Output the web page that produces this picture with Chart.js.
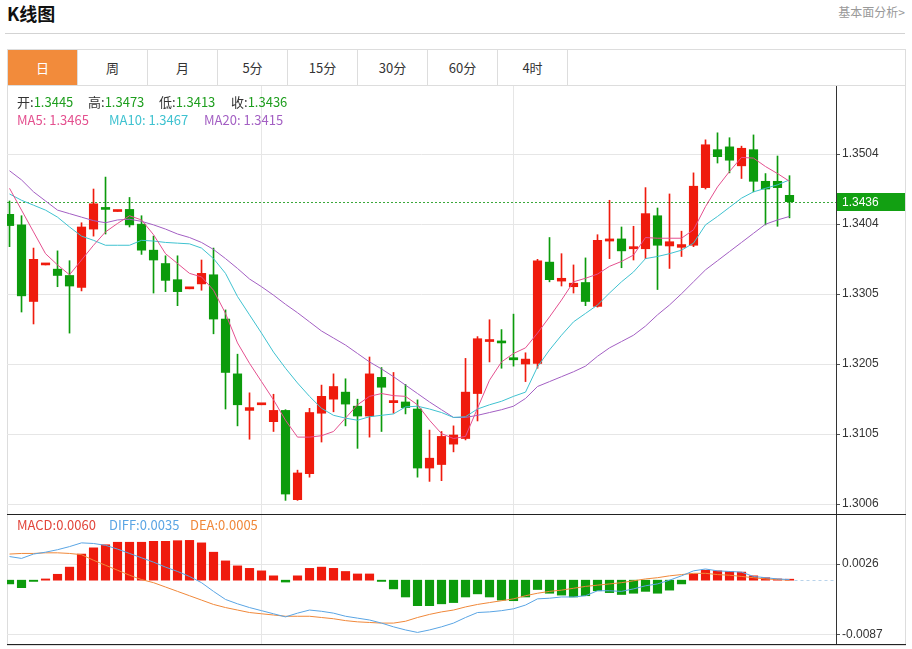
<!DOCTYPE html>
<html><head><meta charset="utf-8">
<script src="https://cdn.jsdelivr.net/npm/chart.js@4.4.0/dist/chart.umd.min.js"></script>
<style>
html,body{margin:0;padding:0;background:#fff;}
body{width:912px;height:649px;position:relative;overflow:hidden;font-family:"Noto Sans CJK SC","Noto Sans",sans-serif;}
.abs{position:absolute;white-space:nowrap;}
#title{left:7px;top:0px;font-size:18px;font-weight:bold;color:#111;line-height:26px;}
#more{right:7px;top:3px;font-size:12px;color:#999;line-height:18px;}
#rule{left:5px;top:33px;width:900px;height:1px;background:#d3d3d3;}
#tabs{left:7px;top:49px;width:897px;height:35px;border:1px solid #ddd;display:flex;}
.tab{width:69px;border-right:1px solid #ddd;text-align:center;line-height:35px;font-size:13px;color:#333;}
.tab.on{background:#f28b3b;color:#fff;}
#box{left:7px;top:85px;width:897px;height:560px;border:1px solid #ddd;border-top:none;}
.sep{left:7px;width:899px;height:1px;background:#222;}
canvas{position:absolute;left:7px;}
.lg{font-size:13px;line-height:16px;}
.lbl{color:#333;}
.gv{color:#1e9e1e;}
</style></head>
<body>
<div id="title" class="abs">K线图</div>
<div id="more" class="abs">基本面分析&gt;</div>
<div id="rule" class="abs"></div>
<div id="tabs" class="abs">
  <div class="tab on">日</div><div class="tab">周</div><div class="tab">月</div><div class="tab">5分</div>
  <div class="tab">15分</div><div class="tab">30分</div><div class="tab">60分</div><div class="tab">4时</div>
</div>
<div id="box" class="abs"></div>
<canvas id="c1" width="898" height="428" style="top:86px;width:898px;height:428px;"></canvas>
<canvas id="c2" width="898" height="129" style="top:515px;width:898px;height:129px;"></canvas>
<div class="abs sep" style="top:514px;"></div>
<div class="abs sep" style="top:644px;"></div>
<div id="leg" class="abs" style="left:0;top:0;"></div>
<script>
// ---- data (daily candles) ----
const openP  = [1.3418,1.3403,1.3294,1.3346,1.3340,1.3331,1.3314,1.3397,1.3427,1.3422,
                1.3425,1.3404,1.3367,1.3348,1.3325,1.3312,1.3319,1.3332,1.3269,1.3191,
                1.3139,1.3147,1.3123,1.3139,1.3012,1.3049,1.3135,1.3155,1.3165,1.3145,
                1.3131,1.3186,1.3150,1.3151,1.3141,1.3057,1.3062,1.3091,1.3099,1.3163,
                1.3237,1.3237,1.3214,1.3205,1.3206,1.3350,1.3323,1.3315,1.3321,1.3287,
                1.3380,1.3383,1.3369,1.3369,1.3416,1.3373,1.3371,1.3374,1.3456,1.3510,
                1.3514,1.3487,1.3510,1.3465,1.3465,1.3445];
const highP  = [1.3437,1.3416,1.3370,1.3346,1.3366,1.3352,1.3406,1.3454,1.3471,1.3422,
                1.3442,1.3416,1.3387,1.3359,1.3359,1.3312,1.3353,1.3370,1.3282,1.3219,
                1.3164,1.3147,1.3162,1.3140,1.3054,1.3142,1.3175,1.3191,1.3184,1.3155,
                1.3215,1.3200,1.3193,1.3176,1.3154,1.3111,1.3109,1.3117,1.3213,1.3244,
                1.3268,1.3254,1.3276,1.3221,1.3354,1.3385,1.3362,1.3346,1.3356,1.3389,
                1.3438,1.3400,1.3401,1.3456,1.3427,1.3447,1.3394,1.3477,1.3524,1.3534,
                1.3527,1.3515,1.3531,1.3476,1.3501,1.3473];
const lowP   = [1.3372,1.3279,1.3262,1.3346,1.3315,1.3249,1.3309,1.3387,1.3390,1.3422,
                1.3400,1.3361,1.3306,1.3308,1.3288,1.3312,1.3310,1.3248,1.3141,1.3117,
                1.3098,1.3147,1.3109,1.3011,1.3011,1.3044,1.3094,1.3137,1.3117,1.3085,
                1.3101,1.3109,1.3135,1.3134,1.3044,1.3038,1.3039,1.3080,1.3097,1.3124,
                1.3208,1.3199,1.3202,1.3180,1.3199,1.3322,1.3316,1.3306,1.3288,1.3286,
                1.3355,1.3342,1.3353,1.3355,1.3311,1.3341,1.3358,1.3372,1.3454,1.3491,
                1.3477,1.3469,1.3450,1.3403,1.3401,1.3413];
const closeP = [1.3402,1.3302,1.3354,1.3346,1.3331,1.3316,1.3400,1.3433,1.3425,1.3422,
                1.3403,1.3367,1.3353,1.3324,1.3308,1.3312,1.3334,1.3269,1.3193,1.3147,
                1.3143,1.3147,1.3139,1.3020,1.3050,1.3136,1.3159,1.3173,1.3148,1.3131,
                1.3191,1.3172,1.3153,1.3143,1.3057,1.3071,1.3102,1.3104,1.3165,1.3241,
                1.3239,1.3235,1.3211,1.3212,1.3352,1.3325,1.3327,1.3320,1.3294,1.3381,
                1.3383,1.3366,1.3372,1.3419,1.3374,1.3379,1.3375,1.3458,1.3517,1.3500,
                1.3495,1.3512,1.3465,1.3454,1.3456,1.3436];
const ma5    = [1.3455,1.3424,1.3393,1.3362,1.3346,1.3332,1.3353,1.3374,1.3393,1.3405,
                1.3416,1.3410,1.3389,1.3362,1.3348,1.3334,1.3329,1.3310,1.3277,1.3235,
                1.3206,1.3180,1.3154,1.3125,1.3101,1.3101,1.3103,1.3109,1.3128,1.3147,
                1.3159,1.3163,1.3160,1.3159,1.3147,1.3125,1.3106,1.3099,1.3102,1.3142,
                1.3182,1.3208,1.3220,1.3228,1.3249,1.3272,1.3296,1.3322,1.3327,1.3333,
                1.3344,1.3351,1.3360,1.3385,1.3384,1.3384,1.3384,1.3396,1.3429,1.3457,
                1.3479,1.3499,1.3498,1.3486,1.3476,1.3465];
const ma10   = [1.3447,1.3438,1.3431,1.3424,1.3414,1.3400,1.3387,1.3381,1.3374,1.3374,
                1.3374,1.3381,1.3380,1.3378,1.3377,1.3376,1.3370,1.3355,1.3334,1.3301,
                1.3275,1.3249,1.3222,1.3199,1.3178,1.3159,1.3142,1.3132,1.3128,1.3125,
                1.3130,1.3132,1.3134,1.3144,1.3145,1.3141,1.3136,1.3129,1.3130,1.3141,
                1.3147,1.3152,1.3159,1.3165,1.3201,1.3225,1.3246,1.3265,1.3277,1.3289,
                1.3306,1.3322,1.3336,1.3355,1.3358,1.3362,1.3367,1.3377,1.3403,1.3415,
                1.3428,1.3441,1.3450,1.3455,1.3460,1.3467];
const ma20   = [1.3480,1.3467,1.3450,1.3437,1.3424,1.3419,1.3414,1.3409,1.3406,1.3410,
                1.3411,1.3408,1.3403,1.3397,1.3390,1.3385,1.3378,1.3368,1.3355,1.3341,
                1.3326,1.3315,1.3303,1.3290,1.3278,1.3265,1.3252,1.3242,1.3232,1.3220,
                1.3208,1.3198,1.3187,1.3175,1.3163,1.3151,1.3140,1.3129,1.3129,1.3132,
                1.3136,1.3140,1.3145,1.3156,1.3173,1.3180,1.3187,1.3194,1.3202,1.3216,
                1.3228,1.3237,1.3246,1.3259,1.3275,1.3289,1.3305,1.3322,1.3339,1.3352,
                1.3365,1.3378,1.3391,1.3404,1.3410,1.3415];
const macdHist = [-0.0006,-0.0012,-0.0002,0.0002,0.00095,0.0021,0.0042,0.0052,0.0057,0.0061,
                0.0061,0.0061,0.00625,0.00625,0.00635,0.0064,0.0060,0.0045,0.0031,0.0023,
                0.0019,0.0015,0.0007,-0.0003,0.0007,0.0019,0.0021,0.0019,0.0014,0.0010,
                0.0010,-0.0002,-0.0014,-0.0027,-0.0041,-0.0041,-0.0038,-0.0036,-0.0027,-0.0022,
                -0.0027,-0.0032,-0.0033,-0.0027,-0.0015,-0.0021,-0.0024,-0.0027,-0.0025,-0.0017,
                -0.0020,-0.0023,-0.0021,-0.0018,-0.0021,-0.0016,-0.0006,0.0010,0.0016,0.0015,
                0.0014,0.0013,0.0007,0.0004,0.0002,0.0001];
const diff   = [0.0038,0.0035,0.0042,0.0045,0.0049,0.0054,0.0060,0.0059,0.0056,0.0050,
                0.0043,0.0036,0.0029,0.0021,0.0014,0.0006,-0.0004,-0.0018,-0.0031,-0.0038,
                -0.0044,-0.0049,-0.0054,-0.0059,-0.0053,-0.0048,-0.0050,-0.0053,-0.0058,-0.0061,
                -0.0064,-0.0069,-0.0075,-0.0080,-0.0084,-0.0080,-0.0075,-0.0069,-0.0060,-0.0052,
                -0.0051,-0.0049,-0.0046,-0.0040,-0.0030,-0.0029,-0.0027,-0.0027,-0.0025,-0.0017,
                -0.0017,-0.0018,-0.0014,-0.0009,-0.0006,0.0000,0.0007,0.0015,0.0018,0.0015,
                0.0014,0.0013,0.0006,0.0004,0.0002,0.0001];
const dea    = [0.0042,0.0043,0.0043,0.0044,0.0044,0.0043,0.0041,0.0032,0.0024,0.0016,
                0.0008,0.0001,-0.0004,-0.0011,-0.0018,-0.0025,-0.0032,-0.0039,-0.0044,-0.0048,
                -0.0052,-0.0054,-0.0056,-0.0058,-0.0058,-0.0058,-0.0060,-0.0062,-0.0065,-0.0067,
                -0.0068,-0.0069,-0.0069,-0.0066,-0.0060,-0.0055,-0.0051,-0.0048,-0.0043,-0.0039,
                -0.0036,-0.0033,-0.0030,-0.0025,-0.0021,-0.0018,-0.0016,-0.0013,-0.0010,-0.0008,
                -0.0006,-0.0004,-0.0001,0.0002,0.0004,0.0007,0.0009,0.0011,0.0011,0.0009,
                0.0008,0.0006,0.0004,0.0002,0.0001,0.0000];
const macdLegend = {MACD: 0.0060, DIFF: 0.0035, DEA: 0.0005};
const priceTicks = [1.30058,1.31054,1.3205,1.33046,1.34042,1.35038];
const macdTicks  = [0.0026,-0.0087];
const xGridTicks = [21,42];
const priceRange = {min:1.29916, max:1.36006};
const macdRange  = {min:-0.01026, max:0.01048};
const xRange     = {min:-0.21, max:68.875};

// ---- styling ----
const UP='#ef1b0d', DOWN='#0c9b0c', PRICEBOX='#12a012';
const C5='#e4508f', C10='#3fc2d0', C20='#a35fc3', CDIFF='#5aa5e4', CDEA='#f0883a';
const N = closeP.length;
const last = N-1;

Chart.defaults.font.family = "'Liberation Sans', Arial, sans-serif";
Chart.defaults.font.size = 12;
Chart.defaults.color = '#333';
Chart.defaults.animation = false;

// legends as text
const leg = document.getElementById('leg');
function span(x,y,html){const d=document.createElement('div');d.className='abs lg';d.style.left=x+'px';d.style.top=y+'px';d.innerHTML=html;leg.appendChild(d);}
span(17,94,'<span class="lbl">开:</span><span class="gv">'+openP[last].toFixed(4)+'</span>');
span(88,94,'<span class="lbl">高:</span><span class="gv">'+highP[last].toFixed(4)+'</span>');
span(159,94,'<span class="lbl">低:</span><span class="gv">'+lowP[last].toFixed(4)+'</span>');
span(231,94,'<span class="lbl">收:</span><span class="gv">'+closeP[last].toFixed(4)+'</span>');
span(17,112,'<span style="color:'+C5+'">MA5: '+ma5[last].toFixed(4)+'</span>');
span(109,112,'<span style="color:'+C10+'">MA10: '+ma10[last].toFixed(4)+'</span>');
span(204,112,'<span style="color:'+C20+'">MA20: '+ma20[last].toFixed(4)+'</span>');
span(17,517,'<span style="color:#e2463b">MACD:'+macdLegend.MACD.toFixed(4)+'</span>');
span(109,517,'<span style="color:'+CDIFF+'">DIFF:'+macdLegend.DIFF.toFixed(4)+'</span>');
span(190,517,'<span style="color:'+CDEA+'">DEA:'+macdLegend.DEA.toFixed(4)+'</span>');

function xScale(){
  return {type:'linear', min:xRange.min, max:xRange.max, offset:false,
    grid:{color:'#e6e6e6', drawTicks:false, offset:false}, border:{display:false}, ticks:{display:false},
    afterBuildTicks:s=>{s.ticks=xGridTicks.map(v=>({value:v}));},
    afterFit:s=>{s.height=0;s.paddingLeft=0;s.paddingRight=0;}};
}
function yScale(range, ticks){
  return {type:'linear', position:'right', min:range.min, max:range.max,
    grid:{color:'#e6e6e6', tickLength:4, tickColor:'#555'},
    border:{display:true, color:'#333', width:1},
    ticks:{padding:2, color:'#333', autoSkip:false, callback:v=>v.toFixed(4)},
    afterBuildTicks:s=>{s.ticks=ticks.map(v=>({value:v}));},
    afterFit:s=>{s.width=69;s.paddingTop=0;s.paddingBottom=0;}};
}
const candleColors = closeP.map((c,i)=> c>=openP[i]?UP:DOWN);
const lineDs = (label,arr,color)=>({type:'line', label, data:arr.map((v,i)=>({x:i,y:v})),
   borderColor:color, borderWidth:1, pointRadius:0, tension:0, order:0, fill:false});

const priceLine = {
  id:'priceLine',
  beforeDatasetsDraw(c){
    const {ctx, chartArea:a, scales:{y}} = c;
    const py = Math.round(y.getPixelForValue(closeP[last]))+0.5;
    ctx.save(); ctx.strokeStyle='#3aa83a'; ctx.lineWidth=1; ctx.setLineDash([2,2]);
    ctx.beginPath(); ctx.moveTo(a.left,py); ctx.lineTo(a.right,py); ctx.stroke(); ctx.restore();
  },
  afterDraw(c){
    const {ctx, chartArea:a, scales:{y}} = c;
    const py = y.getPixelForValue(closeP[last]);
    ctx.save(); ctx.fillStyle=PRICEBOX;
    ctx.fillRect(a.right+1, Math.round(py)-9, c.width-a.right-1, 18);
    ctx.fillStyle='#fff'; ctx.font="12px 'Liberation Sans', Arial, sans-serif"; ctx.textBaseline='middle';
    ctx.fillText(closeP[last].toFixed(4), a.right+6, Math.round(py)+0.5);
    ctx.restore();
  }
};

new Chart(document.getElementById('c1'), {
  type:'bar',
  data:{datasets:[
    lineDs('MA5',ma5,C5), lineDs('MA10',ma10,C10), lineDs('MA20',ma20,C20),
    {type:'bar', label:'body', data:openP.map((o,i)=>({x:i,y:[o,closeP[i]]})), backgroundColor:candleColors,
      barThickness:8.5, minBarLength:2, grouped:false, borderWidth:0, order:1},
    {type:'bar', label:'wick', data:lowP.map((l,i)=>({x:i,y:[l,highP[i]]})), backgroundColor:candleColors,
      barThickness:1, grouped:false, borderWidth:0, order:2}
  ]},
  options:{responsive:false, events:[], layout:{padding:0},
    plugins:{legend:{display:false}, tooltip:{enabled:false}},
    scales:{x:xScale(), y:yScale(priceRange, priceTicks)}},
  plugins:[priceLine]
});

const zeroTail = {
  id:'zeroTail',
  afterDatasetsDraw(c){
    const {ctx, chartArea:a, scales:{x,y}} = c;
    const y0 = Math.round(y.getPixelForValue(0))+0.5;
    ctx.save(); ctx.strokeStyle='#b9d3ea'; ctx.lineWidth=1; ctx.setLineDash([3,3]);
    ctx.beginPath(); ctx.moveTo(x.getPixelForValue(last)+5,y0); ctx.lineTo(a.right,y0); ctx.stroke(); ctx.restore();
  }
};

new Chart(document.getElementById('c2'), {
  type:'bar',
  data:{datasets:[
    lineDs('DIFF',diff,CDIFF), lineDs('DEA',dea,CDEA),
    {type:'bar', label:'MACD', data:macdHist.map((v,i)=>({x:i,y:v})),
      backgroundColor:macdHist.map(v=>v>=0?UP:DOWN), barThickness:8.5, minBarLength:1, grouped:false, borderWidth:0, order:1}
  ]},
  options:{responsive:false, events:[], layout:{padding:0},
    plugins:{legend:{display:false}, tooltip:{enabled:false}},
    scales:{x:xScale(), y:yScale(macdRange, macdTicks)}},
  plugins:[zeroTail]
});
</script>
</body></html>
